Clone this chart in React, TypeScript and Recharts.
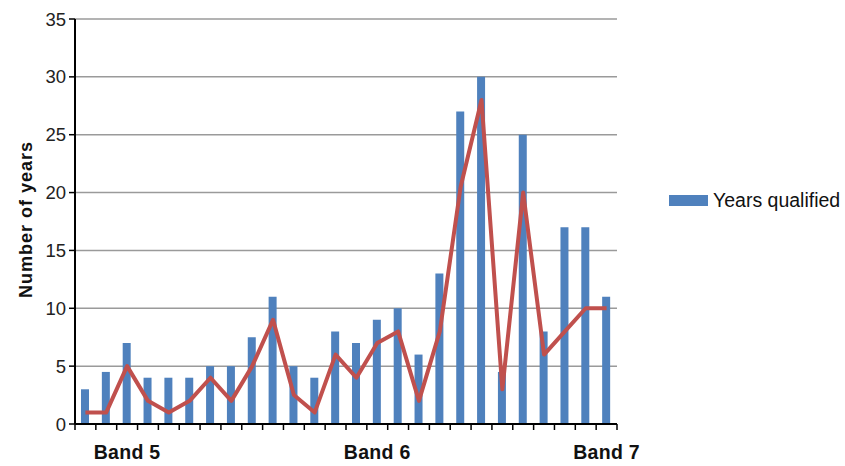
import {
  ComposedChart,
  Bar,
  Line,
  XAxis,
  YAxis,
  CartesianGrid,
  Legend,
  Label,
} from "recharts";

const bands = [
  "", "", "Band 5", "", "", "", "", "", "", "", "", "", "", "",
  "Band 6", "", "", "", "", "", "", "", "", "", "", "Band 7",
];

const yearsQualified = [
  3, 4.5, 7, 4, 4, 4, 5, 5, 7.5, 11, 5, 4, 8, 7, 9, 10, 6, 13, 27, 30, 4.5, 25,
  8, 17, 17, 11,
];

const trend = [
  1, 1, 5, 2, 1, 2, 4, 2, 5, 9, 2.5, 1, 6, 4, 7, 8, 2, 8, 20.5, 28, 3, 20, 6,
  8, 10, 10,
];

const yTicks = [0, 5, 10, 15, 20, 25, 30, 35];

const rows = bands.map((band, i) => ({
  band,
  qualified: yearsQualified[i],
  trend: trend[i],
}));

const FONT = "'Liberation Sans', Arial, Helvetica, sans-serif";

// Excel-style ticks: marks on the category boundaries, label in the middle
const BandTick = (props: any) => {
  const { x, y, payload, index, visibleTicksCount, width } = props;
  const half = payload?.offset ?? width / visibleTicksCount / 2;
  return (
    <g>
      <line x1={x - half} x2={x - half} y1={y} y2={y + 6} stroke="#000" strokeWidth={1.5} />
      {index === visibleTicksCount - 1 && (
        <line x1={x + half} x2={x + half} y1={y} y2={y + 6} stroke="#000" strokeWidth={1.5} />
      )}
      {payload.value && (
        <text
          x={x}
          y={y + 35}
          textAnchor="middle"
          fontFamily={FONT}
          fontSize={19.5}
          fontWeight="bold"
          letterSpacing={0.3}
          fill="#111"
        >
          {payload.value}
        </text>
      )}
    </g>
  );
};

const AxisTitle = (props: any) => {
  const { viewBox } = props;
  const x = viewBox.x + 17;
  const y = viewBox.y + viewBox.height / 2 - 2;
  return (
    <text
      x={x}
      y={y}
      transform={`rotate(-90, ${x}, ${y})`}
      textAnchor="middle"
      fontFamily={FONT}
      fontSize={18}
      fontWeight="bold"
      letterSpacing={1}
      fill="#111"
    >
      Number of years
    </text>
  );
};

const LegendBox = (props: any) => {
  const items = (props.payload || []).filter((p: any) => p.type !== "none");
  return (
    <svg width={176} height={26}>
      {items.map((item: any) => (
        <g key={item.value}>
          <rect x={0} y={6} width={39} height={11} fill={item.color} />
          <text x={44} y={18} fontFamily={FONT} fontSize={19.5} fill="#111">
            {item.value}
          </text>
        </g>
      ))}
    </svg>
  );
};

export default function App() {
  return (
    <div style={{ position: "absolute", left: 0, top: 0, background: "#fff" }}>
      <ComposedChart
        width={845}
        height={466}
        data={rows}
        margin={{ top: 19, right: 228, left: 15, bottom: 0 }}
      >
        <CartesianGrid vertical={false} stroke="#9a9a9a" strokeWidth={1.5} />
        <XAxis
          dataKey="band"
          interval={0}
          height={42}
          tickLine={false}
          tickSize={0}
          tickMargin={0}
          axisLine={{ stroke: "#000", strokeWidth: 2 }}
          tick={<BandTick />}
        />
        <YAxis
          width={60}
          domain={[0, 35]}
          ticks={yTicks}
          interval={0}
          tickSize={6}
          tickMargin={3}
          tickLine={{ stroke: "#000", strokeWidth: 1.5 }}
          axisLine={{ stroke: "#000", strokeWidth: 2 }}
          tick={{ fontFamily: FONT, fontSize: 18.5, fill: "#222" }}
        >
          <Label content={<AxisTitle />} />
        </YAxis>
        <Legend
          layout="horizontal"
          align="center"
          verticalAlign="middle"
          wrapperStyle={{ left: 669, top: 189, width: 176, height: 26 }}
          content={<LegendBox />}
        />
        <Bar
          dataKey="qualified"
          name="Years qualified"
          fill="#4F81BD"
          barSize={8}
          isAnimationActive={false}
        />
        <Line
          dataKey="trend"
          type="linear"
          stroke="#C0504D"
          strokeWidth={4}
          strokeLinejoin="round"
          dot={false}
          activeDot={false}
          legendType="none"
          isAnimationActive={false}
        />
      </ComposedChart>
    </div>
  );
}
